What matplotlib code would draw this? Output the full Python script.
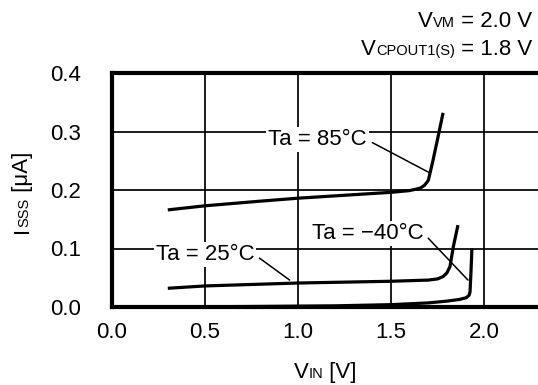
import matplotlib
matplotlib.use("Agg")
import matplotlib.pyplot as plt
from matplotlib.transforms import IdentityTransform

plt.rcParams['font.family'] = ['Liberation Sans', 'DejaVu Sans']

# Data
x85 = [0.30, 0.50, 0.80, 1.00, 1.30, 1.50, 1.60, 1.656, 1.68, 1.70, 1.71, 1.726, 1.753, 1.78]
y85 = [0.166, 0.173, 0.181, 0.186, 0.192, 0.196, 0.199, 0.203, 0.208, 0.216, 0.229, 0.251, 0.291, 0.332]
x25 = [0.30, 0.50, 1.00, 1.50, 1.70, 1.75, 1.78, 1.80, 1.817, 1.835, 1.86]
y25 = [0.032, 0.036, 0.041, 0.044, 0.046, 0.048, 0.052, 0.058, 0.069, 0.103, 0.140]
xm40 = [0.30, 0.80, 1.20, 1.50, 1.70, 1.80, 1.87, 1.905, 1.92, 1.925, 1.93, 1.935]
ym40 = [0.000, 0.001, 0.002, 0.004, 0.007, 0.010, 0.013, 0.016, 0.020, 0.026, 0.060, 0.100]
xticks = [0.0, 0.5, 1.0, 1.5, 2.0]
yticks = [0.0, 0.1, 0.2, 0.3, 0.4]

FS = 16
SUB = 10.5

W, H = 538, 385
fig = plt.figure(figsize=(W / 100, H / 100), dpi=100)
ax = fig.add_axes([112 / W, 1 - 307 / H, 465 / W, 234 / H])
ax.set_xlim(0, 2.5)
ax.set_ylim(0, 0.4)

for xs, ys in [(x85, y85), (x25, y25), (xm40, ym40)]:
    ax.plot(xs, ys, color='black', lw=2.3, solid_capstyle='butt', zorder=3)

ax.set_xticks(xticks)
ax.set_xticklabels([f"{v:.1f}" for v in xticks])
ax.set_yticks(yticks)
ax.set_yticklabels([f"{v:.1f}" for v in yticks])
ax.tick_params(axis='x', length=0, labelsize=FS, pad=11)
ax.tick_params(axis='y', length=0, labelsize=FS, pad=22)
ax.grid(True, color='black', lw=1.25)
for s in ['left', 'bottom', 'top', 'right']:
    ax.spines[s].set_linewidth(3.0)
ax.set_axisbelow(True)

bb = dict(boxstyle='square,pad=0.08', fc='white', ec='none')
ap = dict(arrowstyle='-', color='black', lw=1.1, shrinkA=3, shrinkB=0, relpos=(1.0, 0.5))
ax.annotate("Ta = 85°C", xy=(1.71, 0.229), xytext=(1.105, 0.286),
            ha='center', va='center', fontsize=FS, bbox=bb, arrowprops=ap, zorder=4)
ax.annotate("Ta = 25°C", xy=(0.955, 0.046), xytext=(0.50, 0.090),
            ha='center', va='center', fontsize=FS, bbox=bb, arrowprops=ap, zorder=4)
ax.annotate("Ta = \u221240°C", xy=(1.914, 0.046), xytext=(1.375, 0.126),
            ha='center', va='center', fontsize=FS, bbox=bb, arrowprops=ap, zorder=4)

renderer = fig.canvas.get_renderer()


def text_width(s, size):
    t = fig.text(0, 0, s, fontsize=size)
    w = t.get_window_extent(renderer).width
    t.remove()
    return w


def multi_text(parts, x, y, align='left', rotation=0):
    """parts: list of (string, fontsize); x, y in pixels (baseline anchor)."""
    widths = [text_width(s, sz) for s, sz in parts]
    total = sum(widths)
    start = {'left': 0, 'center': -total / 2, 'right': -total}[align]
    pos = start
    for (s, sz), w in zip(parts, widths):
        if rotation == 0:
            px, py = x + pos, y
        else:
            px, py = x, y + pos
        fig.text(px, py, s, fontsize=sz, transform=IdentityTransform(),
                 ha='left', va='baseline', rotation=rotation, rotation_mode='anchor')
        pos += w


multi_text([("V", FS), ("VM", SUB), (" = 2.0 V", FS)], 532, H - 27, align='right')
multi_text([("V", FS), ("CPOUT1(S)", SUB), (" = 1.8 V", FS)], 532, H - 55, align='right')
multi_text([("V", FS), ("IN", SUB), (" [V]", FS)], 325, H - 378, align='center')
multi_text([("I", FS), ("SSS", SUB), (" [μA]", FS)], 28, H - 192, align='center', rotation=90)

fig.savefig("out.png", dpi=100)
